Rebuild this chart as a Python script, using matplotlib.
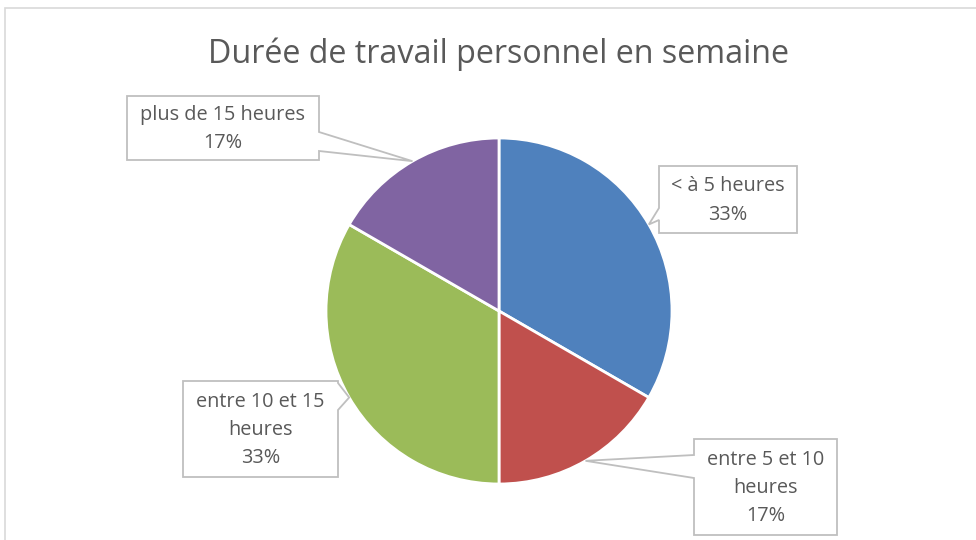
import matplotlib.pyplot as plt
from matplotlib.patches import Polygon, Rectangle
import numpy as np

labels = ["< à 5 heures", "entre 5 et 10\nheures", "entre 10 et 15\nheures", "plus de 15 heures"]
values = [2, 1, 2, 1]
colors = ["#4F81BD", "#C0504D", "#9BBB59", "#8064A2"]

W, H = 976, 540
fig = plt.figure(figsize=(W / 100, H / 100), dpi=100)
ax = fig.add_axes([0, 0, 1, 1])

def Y(y):
    # pixel row (from top) -> axis y
    return H - y

# chart frame
ax.add_patch(Rectangle((5, Y(545)), 980, 537, fill=False, ec="#D9D9D9", lw=1.2))

cx, cy, r = 499, 311, 173
wedges, _ = ax.pie(values, colors=colors, startangle=90, counterclock=False,
                   center=(cx, Y(cy)), radius=r, frame=True,
                   wedgeprops=dict(edgecolor="white", linewidth=2))
ax.set_xlim(0, W)
ax.set_ylim(0, H)
ax.axis("off")

ax.text(cx, Y(54), "Durée de travail personnel en semaine", ha="center", va="center",
        fontsize=23.2, color="#595959", family="Open Sans")

total = sum(values)
pcts = [f"{round(v / total * 100)}%" for v in values]

# box (x0, y0, x1, y1) in pixel rows, side of pointer, pointer base rows
boxes = [
    ((659, 166, 797, 233), "left", (208, 220)),
    ((694, 439, 837, 535), "left", (455, 478)),
    ((183, 381, 338, 477), "right", (383, 410)),
    ((127, 96, 319, 160), "right", (132, 151)),
]

for w, lab, pct, (box, side, (ya, yb)) in zip(wedges, labels, pcts, boxes):
    mid = np.deg2rad((w.theta1 + w.theta2) / 2)
    tx, ty = cx + r * np.cos(mid), Y(cy) + r * np.sin(mid)
    x0, y0, x1, y1 = box
    if side == "left":
        pts = [(x0, Y(y0)), (x1, Y(y0)), (x1, Y(y1)), (x0, Y(y1)), (x0, Y(yb)), (tx, ty), (x0, Y(ya))]
    else:
        pts = [(x0, Y(y0)), (x1, Y(y0)), (x1, Y(ya)), (tx, ty), (x1, Y(yb)), (x1, Y(y1)), (x0, Y(y1))]
    ax.add_patch(Polygon(pts, closed=True, fc="white", ec="#BFBFBF", lw=1.3, zorder=5))
    ax.text((x0 + x1) / 2, Y((y0 + y1) / 2) - 1, lab + "\n" + pct, ha="center", va="center",
            fontsize=14.3, color="#595959", family="Open Sans", linespacing=1.55, zorder=6)

fig.savefig("out.png", dpi=100)
